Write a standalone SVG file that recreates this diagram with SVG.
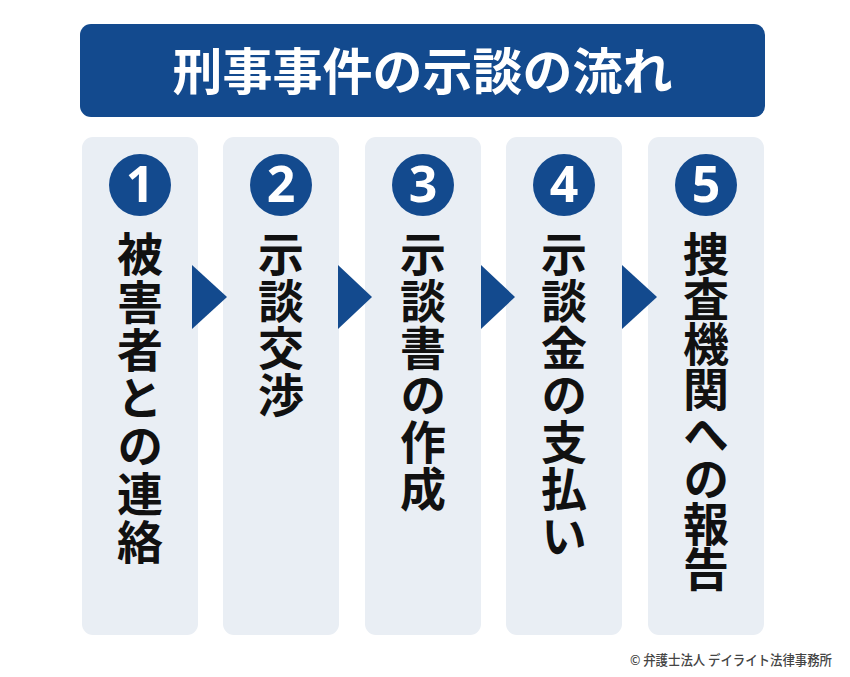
<svg xmlns="http://www.w3.org/2000/svg" width="850" height="677" viewBox="0 0 850 677">
<style>
.col{fill:#e9eef4}
.num-c{fill:#134a8e}
.num{fill:#fff;font-family:"Noto Sans","Liberation Sans",sans-serif;font-weight:700;font-size:50px;text-anchor:middle}
.vt{fill:#111;font-family:"Noto Sans CJK JP","Noto Sans",sans-serif;font-weight:700;font-size:46px;writing-mode:vertical-rl;letter-spacing:1px}
.arr{fill:#134a8e}
</style>
<rect width="850" height="677" fill="#fff"/>
<g id="title">
<rect x="80" y="24" width="685" height="93" rx="11" fill="#134a8e"/>
<text x="422.5" y="90" fill="#fff" font-family="'Noto Sans CJK JP',sans-serif" font-weight="700" font-size="50" text-anchor="middle">刑事事件の示談の流れ</text>
</g>
<g id="step1">
<rect class="col" x="82" y="137" width="116" height="498" rx="11"/>
<circle class="num-c" cx="140" cy="185" r="31"/>
<text class="num" x="140" y="202">1</text>
<text class="vt" x="140" y="231" style="letter-spacing:2px">被害者との連絡</text>
</g>
<g id="step2">
<rect class="col" x="223" y="137" width="116" height="498" rx="11"/>
<circle class="num-c" cx="281" cy="185" r="31"/>
<text class="num" x="281" y="202">2</text>
<text class="vt" x="281" y="231">示談交渉</text>
</g>
<g id="step3">
<rect class="col" x="365" y="137" width="116" height="498" rx="11"/>
<circle class="num-c" cx="423" cy="185" r="31"/>
<text class="num" x="423" y="202">3</text>
<text class="vt" x="423" y="231">示談書の作成</text>
</g>
<g id="step4">
<rect class="col" x="506" y="137" width="116" height="498" rx="11"/>
<circle class="num-c" cx="564" cy="185" r="31"/>
<text class="num" x="564" y="202">4</text>
<text class="vt" x="564" y="231">示談金の支払い</text>
</g>
<g id="step5">
<rect class="col" x="648" y="137" width="116" height="498" rx="11"/>
<circle class="num-c" cx="706" cy="185" r="31"/>
<text class="num" x="706" y="202">5</text>
<text class="vt" x="706" y="231" style="letter-spacing:-1px">捜査機関への報告</text>
</g>
<g id="connectors">
<polygon class="arr" points="192,265 227,297 192,329"/>
<polygon class="arr" points="338,265 372,297 338,329"/>
<polygon class="arr" points="481,265 515,297 481,329"/>
<polygon class="arr" points="622,265 657,297 622,329"/>
</g>
<text x="630" y="665" fill="#444" font-family="'Noto Sans CJK JP',sans-serif" font-weight="500" font-size="13.5" textLength="202" lengthAdjust="spacingAndGlyphs">© 弁護士法人 デイライト法律事務所</text>
</svg>
